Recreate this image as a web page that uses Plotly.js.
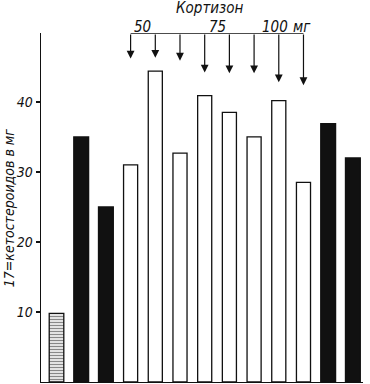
<!DOCTYPE html>
<html>
<head>
<meta charset="utf-8">
<script src="https://cdn.plot.ly/plotly-3.0.1.min.js"></script>
<style>html,body{margin:0;padding:0;background:#fff;}#chart{width:370px;height:384px;}</style>
</head>
<body>
<div id="chart"></div>
<script>
// ---- data ----
var barIndex = [0, 1, 2, 3, 4, 5, 6, 7, 8, 9, 10, 11, 12];
var ketosteroids = [9.8, 35.0, 25.0, 31.0, 44.4, 32.7, 40.9, 38.5, 35.0, 40.2, 28.5, 36.9, 32.0];
var barKind = ['control', 'before', 'before', 'cortisone', 'cortisone', 'cortisone', 'cortisone',
               'cortisone', 'cortisone', 'cortisone', 'cortisone', 'after', 'after'];
var arrowBars = [3, 4, 5, 6, 7, 8, 9, 10];
var arrowDose = [50, 50, 50, 75, 75, 75, 100, 100];
var arrowTips = [46.2, 46.3, 45.9, 44.2, 44.1, 44.1, 42.8, 42.4];
var doseLabels = ['50', '75', '100', 'мг'];
var doseLabelPos = [3.5, 6.5, 8.85, 9.95];
var yTickVals = [10, 20, 30, 40];
var yTitle = '17=кетостероидов в мг';
var drugTitle = 'Кортизон';

// ---- styling ----
var FONT = '"Liberation Sans Narrow", "DejaVu Sans Condensed", "Liberation Sans", sans-serif';
var INK = '#111';
var yTop = 49.85;

function pick(kinds) {
  var xs = [], ys = [];
  barIndex.forEach(function (b, i) {
    if (kinds.indexOf(barKind[i]) >= 0) { xs.push(b); ys.push(ketosteroids[i]); }
  });
  return {x: xs, y: ys};
}

var ctl = pick(['control']);
var blk = pick(['before', 'after']);
var wht = pick(['cortisone']);

var traces = [
  {
    type: 'bar', x: ctl.x, y: ctl.y, width: 0.59,
    marker: {
      color: '#fff',
      line: {color: INK, width: 1.3},
      pattern: {shape: '-', fgcolor: INK, bgcolor: '#fff', size: 3, solidity: 0.5, fillmode: 'overlay'}
    },
    hoverinfo: 'none'
  },
  {
    type: 'bar', x: blk.x, y: blk.y, width: 0.6,
    marker: {color: INK, line: {color: INK, width: 1.3}},
    hoverinfo: 'none'
  },
  {
    type: 'bar', x: wht.x, y: wht.y, width: 0.57,
    marker: {color: '#fff', line: {color: INK, width: 1.3}},
    hoverinfo: 'none'
  }
];

var annotations = [];
arrowBars.forEach(function (b, i) {
  annotations.push({
    x: b, y: arrowTips[i], xref: 'x', yref: 'y',
    ax: b, ay: yTop, axref: 'x', ayref: 'y',
    text: '', showarrow: true, arrowhead: 2, arrowsize: 1.3, arrowwidth: 1.2,
    arrowcolor: INK, standoff: 0, startstandoff: 0
  });
});
doseLabels.forEach(function (t, i) {
  annotations.push({
    x: doseLabelPos[i], y: 1.0172, xref: 'x', yref: 'paper',
    text: t, showarrow: false, xanchor: 'center', yanchor: 'middle',
    font: {family: FONT, size: 15, style: 'italic', color: INK}
  });
});
annotations.push({
  x: 6.21, y: 1.0716, xref: 'x', yref: 'paper',
  text: drugTitle, showarrow: false, xanchor: 'center', yanchor: 'middle',
  font: {family: FONT, size: 15, style: 'italic', color: INK}
});
annotations.push({
  x: -0.1, y: 0.5, xref: 'paper', yref: 'paper',
  text: yTitle, showarrow: false, textangle: -90, xanchor: 'center', yanchor: 'middle',
  font: {family: FONT, size: 14, style: 'italic', color: INK}
});

var layout = {
  width: 370, height: 384,
  margin: {l: 41, r: 7, t: 33, b: 2, pad: 0},
  paper_bgcolor: '#fff', plot_bgcolor: '#fff',
  showlegend: false,
  barmode: 'overlay',
  xaxis: {
    range: [-0.628, 12.41], showgrid: false, zeroline: false, showticklabels: false,
    ticks: '', showline: true, linecolor: INK, linewidth: 1.3, fixedrange: true
  },
  yaxis: {
    range: [0, yTop], showgrid: false, zeroline: false, showline: true,
    linecolor: INK, linewidth: 1.3, tickvals: yTickVals, ticks: 'outside', ticklen: 4,
    tickwidth: 1.2, tickcolor: INK,
    tickfont: {family: FONT, size: 14, style: 'italic', color: INK}, fixedrange: true
  },
  shapes: [{
    type: 'line', xref: 'x', yref: 'y',
    x0: arrowBars[0], x1: arrowBars[arrowBars.length - 1], y0: yTop, y1: yTop,
    line: {color: INK, width: 1.3}
  }],
  annotations: annotations
};

Plotly.newPlot('chart', traces, layout, {displayModeBar: false, staticPlot: true});
</script>
</body>
</html>
